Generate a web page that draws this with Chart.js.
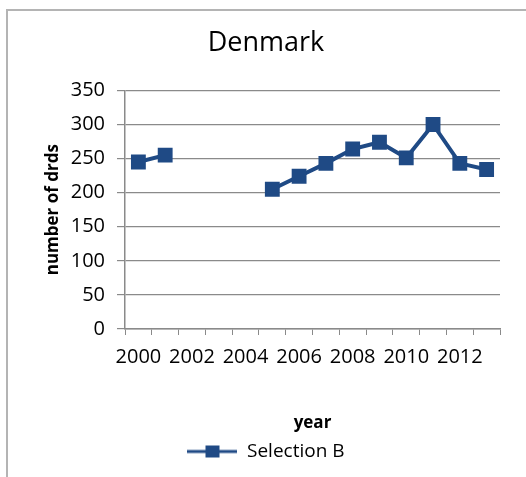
<!DOCTYPE html>
<html>
<head>
<meta charset="utf-8">
<script src="https://cdn.jsdelivr.net/npm/chart.js@4/dist/chart.umd.min.js"></script>
<style>
  html, body { margin: 0; padding: 0; background: #fff; }
  #wrap { position: relative; width: 526px; height: 477px; }
</style>
</head>
<body>
<div id="wrap"><canvas id="c" width="526" height="477"></canvas></div>
<script>
// Yearly counts for Denmark; years without a figure are left as null
const years = ['2000', '2001', '2002', '2003', '2004', '2005', '2006',
               '2007', '2008', '2009', '2010', '2011', '2012', '2013'];
const selectionB = [245, 255, null, null, null, 205, 224, 243, 264, 274, 251, 300, 243, 234];
const yTicks = [0, 50, 100, 150, 200, 250, 300, 350];

const BLUE = '#1f4a85';
const AXIS = '#8a8a8a';
const FONT = "'Open Sans', sans-serif";

// Legend swatch: a short line with a square marker on it
const swatch = document.createElement('canvas');
swatch.width = 50; swatch.height = 14;
(function () {
  const g = swatch.getContext('2d');
  g.strokeStyle = BLUE; g.lineWidth = 3;
  g.beginPath(); g.moveTo(0, 7); g.lineTo(50, 7); g.stroke();
  g.fillStyle = BLUE; g.fillRect(18, 1, 14, 12);
})();

// Chart frame: light grey rule along the top and left edges
const frame = {
  id: 'frame',
  beforeDraw(chart) {
    const ctx = chart.ctx;
    ctx.save();
    ctx.fillStyle = '#fff';
    ctx.fillRect(0, 0, chart.width, chart.height);
    ctx.strokeStyle = '#b4b4b4';
    ctx.lineWidth = 2;
    ctx.beginPath();
    ctx.moveTo(7, chart.height);
    ctx.lineTo(7, 10);
    ctx.lineTo(chart.width, 10);
    ctx.stroke();
    ctx.restore();
  }
};

new Chart(document.getElementById('c'), {
  type: 'line',
  data: {
    labels: years,
    datasets: [{
      label: 'Selection B',
      data: selectionB,
      borderColor: BLUE,
      backgroundColor: BLUE,
      borderWidth: 4,
      pointStyle: 'rect',
      pointRadius: 10.5,
      pointHoverRadius: 10.5,
      pointBorderWidth: 0,
      spanGaps: false,
      tension: 0
    }]
  },
  options: {
    responsive: false,
    animation: false,
    devicePixelRatio: 1,
    layout: { padding: { left: 32, right: 26, top: 12, bottom: 6 } },
    plugins: {
      title: {
        display: true,
        text: 'Denmark',
        color: '#000',
        font: { family: FONT, size: 27, weight: 'normal' },
        padding: { top: 15, bottom: 31 }
      },
      legend: {
        position: 'bottom',
        labels: {
          usePointStyle: true,
          pointStyle: swatch,
          pointStyleWidth: 50,
          color: '#000',
          font: { family: FONT, size: 19 },
          padding: 10
        }
      },
      tooltip: { enabled: false }
    },
    scales: {
      x: {
        type: 'category',
        offset: true,
        grid: { offset: true, drawOnChartArea: false, tickLength: 6, color: AXIS },
        border: { color: AXIS, width: 1.5 },
        ticks: {
          autoSkip: false,
          maxRotation: 0,
          color: '#000',
          padding: 10,
          font: { family: FONT, size: 20 },
          callback(v, i) { return i % 2 === 0 ? years[i] : ''; }
        },
        title: {
          display: true,
          text: 'year',
          color: '#000',
          font: { family: FONT, size: 17, weight: 'bold', lineHeight: 1 },
          padding: { top: 8, bottom: 0 }
        },
        afterFit(s) {
          s.height = s.chart.height - 6 - s.chart.legend.height - 329;
        }
      },
      y: {
        min: 0,
        max: 350,
        afterBuildTicks(s) { s.ticks = yTicks.map(v => ({ value: v })); },
        grid: { color: AXIS, tickLength: 8, lineWidth: 1.2 },
        border: { color: AXIS, width: 1.5 },
        ticks: {
          color: '#000',
          padding: 12,
          font: { family: FONT, size: 20 }
        },
        title: {
          display: true,
          text: 'number of drds',
          color: '#000',
          font: { family: FONT, size: 17, weight: 'bold' },
          padding: { top: 11, bottom: 0 }
        },
        afterFit(s) { s.width = 93; }
      }
    }
  },
  plugins: [frame]
});
</script>
</body>
</html>
